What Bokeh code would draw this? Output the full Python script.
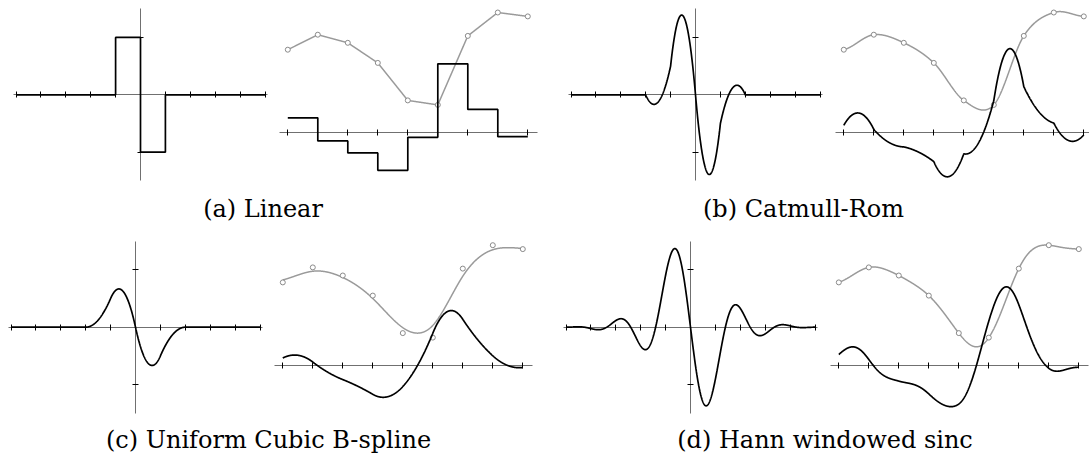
import numpy as np
from bokeh.plotting import figure
from bokeh.layouts import column, row
from bokeh.models import Range1d, LinearAxis, FixedTicker, Label
from bokeh.embed import file_html
from bokeh.resources import INLINE

# Samples of the test signal (unit spacing along x)
sample_x = [0, 1, 2, 3, 4, 5, 6, 7, 8]
sample_y = [2.77, 3.27, 3.00, 2.33, 1.08, 0.93, 3.23, 4.01, 3.88]

# Tick positions of the kernel plots and of the signal plots
kernel_ticks_x = [-5, -4, -3, -2, -1, 0, 1, 2, 3, 4, 5]
kernel_ticks_y = [-1, 1]
signal_ticks_x = sample_x

captions = ["(a) Linear", "(b) Catmull-Rom",
            "(c) Uniform Cubic B-spline", "(d) Hann windowed sinc"]

HANN_RADIUS = 5


# ---- reconstruction kernels and their derivatives ----
def linear_k(x):
    a = np.abs(x)
    return np.where(a < 1, 1 - a, 0.0)


def linear_dk(x):
    return np.where((x > -1) & (x < 0), 1.0, np.where((x > 0) & (x < 1), -1.0, 0.0))


def catmull_k(x):
    a = np.abs(x)
    return np.where(a < 1, 1.5 * a**3 - 2.5 * a**2 + 1,
                    np.where(a < 2, -0.5 * a**3 + 2.5 * a**2 - 4 * a + 2, 0.0))


def catmull_dk(x):
    a = np.abs(x)
    g = np.where(a < 1, 4.5 * a**2 - 5 * a,
                 np.where(a < 2, -1.5 * a**2 + 5 * a - 4, 0.0))
    return np.sign(x) * g


def bspline_k(x):
    a = np.abs(x)
    return np.where(a < 1, (3 * a**3 - 6 * a**2 + 4) / 6,
                    np.where(a < 2, (2 - a)**3 / 6, 0.0))


def bspline_dk(x):
    a = np.abs(x)
    g = np.where(a < 1, 1.5 * a**2 - 2 * a,
                 np.where(a < 2, -0.5 * (2 - a)**2, 0.0))
    return np.sign(x) * g


def hann_k(x):
    R = HANN_RADIUS
    w = np.where(np.abs(x) < R, 0.5 * (1 + np.cos(np.pi * x / R)), 0.0)
    return np.sinc(x) * w


def hann_dk(x):
    R = HANN_RADIUS
    inside = np.abs(x) < R
    w = np.where(inside, 0.5 * (1 + np.cos(np.pi * x / R)), 0.0)
    dw = np.where(inside, -0.5 * (np.pi / R) * np.sin(np.pi * x / R), 0.0)
    s = np.sinc(x)
    xs = np.where(x == 0, 1.0, x)
    ds = np.where(x == 0, 0.0, (np.cos(np.pi * x) - s) / xs)
    return ds * w + s * dw


def split_grid(lo, hi, n=120):
    # dense grid that never lands exactly on an integer, so jumps stay vertical
    parts = [np.linspace(i + 1e-9, i + 1 - 1e-9, n) for i in range(lo, hi)]
    return np.concatenate(parts)


def reconstruct(kern, xs, radius):
    js = np.arange(-radius - 1, len(sample_y) + radius + 1)
    vals = np.asarray(sample_y)[np.clip(js, 0, len(sample_y) - 1)]
    return (vals[None, :] * kern(xs[:, None] - js[None, :])).sum(axis=1)


def style_axis(ax):
    ax.axis_line_color = "#707070"
    ax.axis_line_width = 1
    ax.major_tick_line_color = "black"
    ax.major_tick_line_width = 1
    ax.major_tick_in = 3
    ax.major_tick_out = 3
    ax.minor_tick_line_color = None
    ax.major_label_text_color = None
    ax.level = "underlay"


def pair(W, H, kgeom, fgeom, k, dk, radius, caption, cap_x, cap_base):
    cx, cy, sx, sy = kgeom
    fx0, fcy, fs = fgeom
    p = figure(width=W, height=H, output_backend="svg", toolbar_location=None,
               x_range=Range1d(-cx / sx, (W - cx) / sx),
               y_range=Range1d(-(H - cy) / sy, cy / sy),
               x_axis_type=None, y_axis_type=None, min_border=0,
               outline_line_color=None, background_fill_color="white",
               border_fill_color="white")
    p.extra_x_ranges = {"fx": Range1d(-fx0 / fs, (W - fx0) / fs), "px": Range1d(0, W)}
    p.extra_y_ranges = {"fy": Range1d(-(H - fcy) / fs, fcy / fs), "px": Range1d(0, H)}

    kx = LinearAxis(fixed_location=0, bounds=(-5.12, 5.12),
                    ticker=FixedTicker(ticks=kernel_ticks_x))
    style_axis(kx)
    p.add_layout(kx, "below")
    ky = LinearAxis(fixed_location=0, bounds=(-1.5, 1.5),
                    ticker=FixedTicker(ticks=kernel_ticks_y))
    style_axis(ky)
    p.add_layout(ky, "left")
    fa = LinearAxis(x_range_name="fx", y_range_name="fy", fixed_location=0,
                    bounds=(-0.28, 8.31), ticker=FixedTicker(ticks=signal_ticks_x))
    style_axis(fa)
    p.add_layout(fa, "below")

    # kernel derivative
    xk = split_grid(-5, 5)
    p.line(xk, dk(xk), line_color="black", line_width=1.7)

    # reconstructed signal, samples and reconstructed derivative
    xf = split_grid(0, len(sample_y) - 1)
    p.line(xf, reconstruct(k, xf, radius), x_range_name="fx", y_range_name="fy",
           line_color="#9a9a9a", line_width=1.5)
    p.scatter(sample_x, sample_y, x_range_name="fx", y_range_name="fy", size=5,
              line_color="#8a8a8a", fill_color="white", line_width=1)
    p.line(xf, reconstruct(dk, xf, radius), x_range_name="fx", y_range_name="fy",
           line_color="black", line_width=1.7)

    p.add_layout(Label(x=cap_x, y=H - cap_base, x_range_name="px", y_range_name="px",
                       text=caption, text_align="center", text_baseline="alphabetic",
                       text_font="DejaVu Serif", text_font_size="24px",
                       text_color="black"))
    return p


pa = pair(545, 230, (140, 94.3, 24.9, 57.4), (287.3, 132.3, 30),
          linear_k, linear_dk, 1, captions[0], 262.5, 208)
pb = pair(544, 230, (150, 94.3, 24.9, 57.4), (298.3, 132.3, 30),
          catmull_k, catmull_dk, 2, captions[1], 258, 208)
pc = pair(545, 225, (135, 96.7, 24.9, 57.4), (282.3, 135, 30),
          bspline_k, bspline_dk, 2, captions[2], 268, 209)
pd = pair(544, 225, (145, 96.7, 24.9, 57.4), (293.3, 135, 30),
          hann_k, hann_dk, HANN_RADIUS, captions[3], 279.5, 209)

layout = column(row(pa, pb, spacing=0), row(pc, pd, spacing=0), spacing=0)

with open("out.html", "w") as fh:
    fh.write(file_html(layout, INLINE))
